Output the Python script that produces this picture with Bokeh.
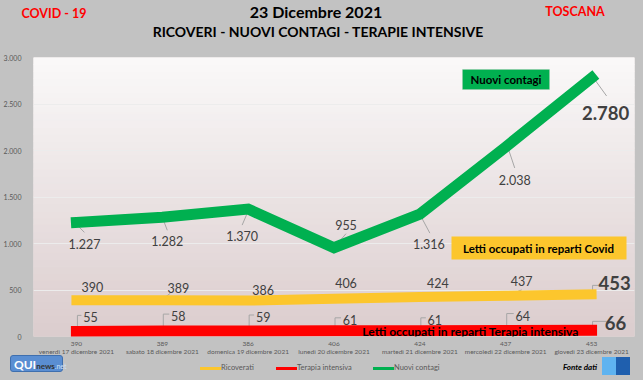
from bokeh.plotting import figure
from bokeh.models import Range1d, FixedTicker, Label, BoxAnnotation, ColumnDataSource, Div
from bokeh.layouts import column
from bokeh.core.properties import value
from bokeh.embed import file_html
from bokeh.resources import INLINE
import numpy as np

# ---------------- data ----------------
dates = ["venerdì 17 dicembre 2021", "sabato 18 dicembre 2021", "domenica 19 dicembre 2021",
         "lunedì 20 dicembre 2021", "martedì 21 dicembre 2021", "mercoledì 22 dicembre 2021",
         "giovedì 23 dicembre 2021"]
ricoverati = [390, 389, 386, 406, 424, 437, 453]
terapia = [55, 58, 59, 61, 61, 64, 66]
contagi = [1227, 1282, 1370, 955, 1316, 2038, 2780]
y_ticks = [0, 500, 1000, 1500, 2000, 2500, 3000]
series_names = ["Ricoverati", "Terapia intensiva", "Nuovi contagi"]

# label offsets (pixels) - styling only
off_contagi = [(8, 22), (5, 24), (-6, 27), (12, -23), (9, 30), (9, 33), (14, 35)]
off_ricov = [(16, -13), (16, -12), (15, -11), (12, -16), (18, -14), (16, -15), (23, -11)]
off_terap = [(14, -14), (16, -15), (15, -14), (16, -11), (15, -11), (17, -15), (24, -7)]
# leader lines: pixel offsets from the point (styling only)
lead_contagi = [[(-1, 1), (8, 10)], [(0, 0), (5, 13)], [(0, 2), (-6, 16)], [(0, 0), (12, -14)],
                [(2, 4), (10, 19)], [(2, 0), (9, 21)], [(2, 0), (15, 18)]]
lead_ricov = {1: [(0, -1), (8, -7)], 5: [(1, 0), (16, -6)], 6: [(1, -2), (1, -9), (7, -9)]}

FONT = "Lato"
BG = "#c2c2c2"
GREEN = "#00b050"
YELLOW = "#fcc62d"
RED = "#ff0000"
LBL = "#404040"
LEAD = "#a6a6a6"
W = 643
FRAME_W, FRAME_H = 601, 279
Y_MAX = 3000


def it_num(v):
    return f"{v:,}".replace(",", ".")


x = list(range(len(dates)))

p = figure(width=W, height=311, output_backend="svg", toolbar_location=None,
           x_range=Range1d(-0.5, len(dates) - 0.5), y_range=Range1d(0, Y_MAX),
           min_border_left=33, min_border_right=W - 33 - FRAME_W, min_border_top=5, min_border_bottom=27)
p.border_fill_color = BG
p.background_fill_color = "#ebe4e4"
p.outline_line_color = None

# gradient background of plot area
n = 40
edges = np.linspace(0, Y_MAX, n + 1)
top_c = np.array([250, 249, 249])
bot_c = np.array([219, 204, 205])
cols = ['#%02x%02x%02x' % tuple(int(round(c)) for c in bot_c + (top_c - bot_c) * (k + 0.5) / n) for k in range(n)]
p.quad(left=-0.5, right=len(dates) - 0.5, bottom=edges[:-1], top=edges[1:], fill_color=cols,
       line_color=cols, line_width=1, level="image")

# grid / axes
p.xgrid.grid_line_color = None
p.ygrid.grid_line_color = "#ececec"
p.ygrid.grid_line_width = 1
p.yaxis.ticker = FixedTicker(ticks=y_ticks)
p.yaxis.major_label_overrides = {t: it_num(t) for t in y_ticks}
p.yaxis.axis_line_color = None
p.yaxis.major_tick_line_color = None
p.yaxis.minor_tick_line_color = None
p.yaxis.major_label_text_font = FONT
p.yaxis.major_label_text_font_size = "7px"
p.yaxis.major_label_text_color = "#595959"
p.yaxis.major_label_standoff = 6

p.xaxis.ticker = FixedTicker(ticks=x)
p.xaxis.major_label_overrides = {i: f"{ricoverati[i]}\n{dates[i]}" for i in x}
p.xaxis.axis_line_color = None
p.xaxis.major_tick_line_color = None
p.xaxis.minor_tick_line_color = None
p.xaxis.major_label_text_font = FONT
p.xaxis.major_label_text_font_size = "6.5px"
p.xaxis.major_label_text_color = "#595959"
p.xaxis.major_label_standoff = -3

# pixel -> data helpers for leader lines
px_x = (len(dates)) / FRAME_W
px_y = Y_MAX / FRAME_H


def leaders(vals, spec):
    xs, ys = [], []
    for i, pts in spec:
        xs.append([x[i] + dx * px_x for dx, dy in pts])
        ys.append([vals[i] - dy * px_y for dx, dy in pts])
    p.multi_line(xs, ys, line_color=LEAD, line_width=1)


leaders(contagi, list(enumerate(lead_contagi)))
leaders(ricoverati, list(lead_ricov.items()))
leaders(terapia, [(i, [(1, -4), (1, o[1] - 2), (o[0] - 9, o[1] - 2)]) for i, o in enumerate(off_terap)])

# series lines
p.line(x, contagi, line_color=GREEN, line_width=11, line_cap="square", line_join="miter")
p.line(x, ricoverati, line_color=YELLOW, line_width=10, line_cap="square", line_join="miter")
p.line(x, terapia, line_color=RED, line_width=11, line_cap="square", line_join="miter")


# data labels
def labels(vals, offs):
    src = ColumnDataSource(dict(x=x[:-1], y=vals[:-1], t=[it_num(v) for v in vals[:-1]],
                                xo=[o[0] for o in offs[:-1]], yo=[o[1] for o in offs[:-1]]))
    p.text("x", "y", text="t", x_offset="xo", y_offset="yo", source=src, text_font=value(FONT),
           text_font_size="12.5px", text_color=LBL, text_align="center", text_baseline="middle")
    p.text([x[-1]], [vals[-1]], text=[it_num(vals[-1])], x_offset=offs[-1][0], y_offset=offs[-1][1],
           text_font=value(FONT), text_font_size="18.5px", text_font_style="bold", text_color=LBL,
           text_align="center", text_baseline="middle")


labels(contagi, off_contagi)
labels(ricoverati, off_ricov)
labels(terapia, off_terap)


def lab(txt, sx, sy, size, color="#000000", style="bold"):
    p.add_layout(Label(x=sx, y=sy, x_units="screen", y_units="screen", text=txt,
                       text_font=FONT, text_font_size=size, text_font_style=style,
                       text_color=color, text_align="center", text_baseline="middle"))


def box(l, r, t, b, color, line=None):
    p.add_layout(BoxAnnotation(left=l, right=r, top=t, bottom=b, left_units="screen", right_units="screen",
                               top_units="screen", bottom_units="screen", fill_color=color, fill_alpha=1,
                               line_color=line, line_width=1, level="glyph"))


# callout boxes (screen units, relative to the plot frame)
box(429, 516, 267, 247, GREEN, "#a9c3b0")
lab("Nuovi contagi", 472.5, 257, "11.5px")
box(418, 593, 100, 77, YELLOW)
lab("Letti occupati in reparti Covid", 505, 88.5, "11.5px")
lab("Letti occupati in reparti Terapia intensiva", 437, 5, "12px")


# ---------------- header & footer (HTML text) ----------------
def span(txt, cx, cy, size, color="#000", weight="bold", style="normal"):
    return (f'<span style="position:absolute;left:{cx}px;top:{cy}px;transform:translate(-50%,-50%);'
            f'white-space:nowrap;font-family:Lato;font-size:{size}px;font-weight:{weight};'
            f'font-style:{style};color:{color};line-height:1;">{txt}</span>')


header_html = ('<div style="position:relative;width:%dpx;height:52px;">' % W
               + span("COVID - 19", 54, 14, 12.5, "#ff0000")
               + span("23 Dicembre 2021", 316, 12, 16)
               + span("TOSCANA", 575, 12, 12.5, "#ff0000")
               + span("RICOVERI - NUOVI CONTAGI - TERAPIE INTENSIVE", 318, 32, 14)
               + '</div>')
header = Div(text=header_html, width=W, height=52, margin=0,
             styles={"background-color": BG, "overflow": "visible"})

# footer: legend, logos, source
leg_cols = [YELLOW, RED, GREEN]
leg_x = [200, 276, 373]
leg_html = ""
for nm, c, lx in zip(series_names, leg_cols, leg_x):
    leg_html += (f'<span style="position:absolute;left:{lx}px;top:4px;width:21px;height:3px;background:{c};"></span>'
                 f'<span style="position:absolute;left:{lx + 21}px;top:1px;white-space:nowrap;font-family:Lato;'
                 f'font-size:7.5px;color:#595959;line-height:1;">{nm}</span>')

logo_html = ('<div style="position:absolute;left:10px;top:-8px;width:53px;height:17px;background:#5a8ed2;'
             'border:1px solid #3f6fae;border-radius:3px;font-family:Lato;line-height:17px;white-space:nowrap;">'
             '<span style="color:#fff;font-weight:bold;font-size:12px;margin-left:3px;">QUI</span>'
             '<span style="color:#333;font-weight:bold;font-size:8px;">news</span>'
             '<span style="color:#cfe0f5;font-size:7px;">.net</span></div>')
src_html = (span("Fonte dati", 580, 4, 8, "#000", "bold", "italic")
            + '<span style="position:absolute;left:602px;top:-6px;width:14px;height:18px;background:#5fb3f0;"></span>'
            + '<span style="position:absolute;left:616px;top:-6px;width:14px;height:18px;background:#1f5fae;"></span>')

footer = Div(text='<div style="position:relative;width:%dpx;height:17px;">' % W + logo_html + leg_html + src_html + '</div>',
             width=W, height=17, margin=0, styles={"background-color": BG, "overflow": "visible"})

layout = column(header, p, footer, spacing=0, styles={"background-color": BG})

html = file_html(layout, INLINE)
html = html.replace("<body>", '<body style="background:%s">' % BG)
open("out.html", "w").write(html)
